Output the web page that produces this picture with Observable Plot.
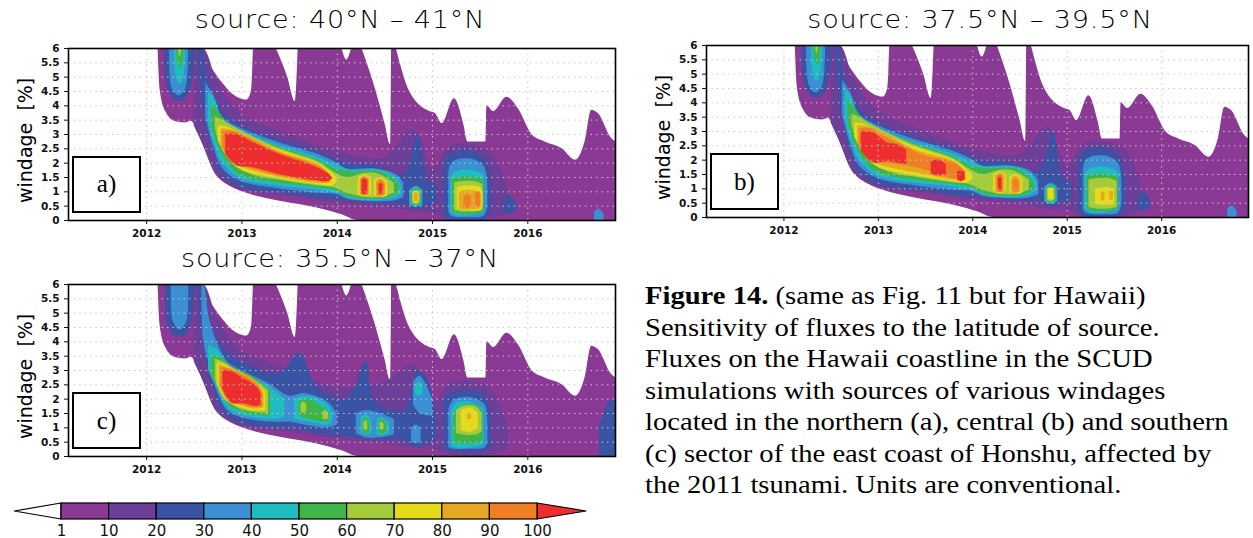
<!DOCTYPE html>
<html><head><meta charset="utf-8">
<script src="https://cdn.jsdelivr.net/npm/d3@7"></script>
<script src="https://cdn.jsdelivr.net/npm/@observablehq/plot@0.6"></script>
<style>
body{margin:0;background:#fff;width:1253px;height:538px;position:relative;overflow:hidden;font-family:"DejaVu Sans",sans-serif}
.abs{position:absolute}
.title{font-size:25px;white-space:nowrap;transform:translateX(-50%) scaleX(1.08);letter-spacing:0.8px;font-weight:300}
.ylab{font-size:19px;transform:rotate(-90deg);transform-origin:left top;white-space:nowrap}
.tag{border:2px solid #000;background:#fff;font-family:"Liberation Serif",serif;font-size:25px;display:flex;align-items:center;justify-content:center;box-sizing:border-box}
.cap{font-family:"Liberation Serif",serif;font-size:26px;line-height:31.5px;white-space:nowrap;transform:scaleX(1.1);transform-origin:left top}
</style></head><body>
<script>
// ---------- data ----------
const years = [2012, 2013, 2014, 2015, 2016];
const windTicks = [0, 0.5, 1, 1.5, 2, 2.5, 3, 3.5, 4, 4.5, 5, 5.5, 6];
const levels = [1, 10, 20, 30, 40, 50, 60, 70, 80, 90, 100];
const levelColors = ["#8a3a94", "#6c3f99", "#3a53a4", "#3b8fd3", "#1fbdc0", "#3eb449", "#a4cb3a", "#e5db1b", "#e6a823", "#f07e22", "#ee2e2e"];
const titles = ["source: 40°N – 41°N", "source: 37.5°N – 39.5°N", "source: 35.5°N – 37°N"];
const tags = ["a)", "b)", "c)"];

// lower boundary of the non-zero region: [year, windage]
const lowerEdge = [[2012.12,6],[2012.14,4.6],[2012.2,3.8],[2012.3,3.45],[2012.4,3.4],[2012.47,3.45],[2012.55,3.0],[2012.62,2.4],[2012.7,1.8],[2012.78,1.45],[2012.9,1.15],[2013.05,0.95],[2013.4,0.67],[2013.8,0.43],[2014.05,0.2],[2014.22,0],[2016.92,0]];
// white gaps reaching down from the top: [year, windage bottom]
const gaps = [
 [[2012.56,6],[2012.75,5.0],[2012.95,4.3],[2013.05,4.2],[2013.1,4.5],[2013.12,6]],
 [[2013.36,6],[2013.48,5.0],[2013.56,4.15],[2013.59,6]],
 [[2014.05,6],[2014.1,5.6],[2014.15,6]],
 [[2014.26,6],[2014.4,4.6],[2014.5,3.4],[2014.56,2.65],[2014.57,6]],
 [[2014.62,6],[2014.76,4.5],[2014.97,3.8],[2015.03,3.73],[2015.1,3.38],[2015.23,4.25],[2015.33,3.32],[2015.37,2.74],[2015.56,2.74],[2015.57,4.0],[2015.64,3.8],[2015.78,4.3],[2015.9,3.9],[2016.05,2.97],[2016.18,2.74],[2016.36,2.5],[2016.5,2.1],[2016.6,2.74],[2016.67,3.85],[2016.74,3.73],[2016.88,2.86],[2016.92,2.75]]
];

// blobs: [level, [[year, windage low, windage high], ...]]
const blobsA = [
 [10, [[2012.5,3.3,6],[2012.6,2.6,6],[2012.75,1.5,4.8],[2013.0,1.05,3.7],[2013.5,0.85,3.0],[2014.0,0.6,2.4],[2014.5,0.45,2.2],[2014.8,0.3,3.2],[2015.0,0.25,1.8],[2015.2,0.02,2.6],[2015.6,0.02,2.4],[2015.8,0.3,1.0]]],
 [20, [[2012.19,6,6],[2012.22,4.6,6],[2012.3,4.2,6],[2012.4,4.2,6],[2012.48,4.8,6],[2012.5,6,6]]],
 [20, [[2012.54,6,6],[2012.58,4.3,6],[2012.62,3.4,5.2],[2012.7,2.4,4.4],[2012.8,1.6,3.8],[2013.0,1.15,3.3],[2013.4,0.95,2.8],[2013.8,0.78,2.4],[2014.1,0.7,2.0],[2014.4,0.6,1.9],[2014.7,0.55,1.6],[2014.85,0.4,3.0],[2014.95,0.5,1.4],[2015.05,0.6,1.2]]],
 [20, [[2015.12,0.3,1.2],[2015.15,0.05,2.2],[2015.35,0.02,2.45],[2015.55,0.05,2.1],[2015.62,0.4,1.2]]],
 [20, [[2015.75,0.3,0.6],[2015.8,0.2,0.9],[2015.88,0.35,0.6]]],
 [30, [[2012.24,6,6],[2012.27,4.6,6],[2012.34,4.35,6],[2012.41,4.6,6],[2012.44,6,6]]],
 [30, [[2012.62,3.6,4.8],[2012.7,2.6,4.4],[2012.8,1.8,3.6],[2013.0,1.35,3.2],[2013.4,1.1,2.7],[2013.8,0.95,2.3],[2014.0,0.9,2.0],[2014.1,0.75,1.8],[2014.4,0.65,1.8],[2014.62,0.7,1.6],[2014.7,0.8,1.3]]],
 [30, [[2014.76,0.55,1.05],[2014.83,0.45,1.2],[2014.9,0.55,1.05]]],
 [30, [[2015.17,0.3,1.5],[2015.2,0.15,2.0],[2015.38,0.1,2.15],[2015.54,0.15,1.9],[2015.58,0.5,1.2]]],
 [30, [[2016.7,0,0.3],[2016.75,0,0.4],[2016.8,0,0.2]]],
 [40, [[2012.29,6,6],[2012.31,5.0,6],[2012.35,4.75,6],[2012.39,5.0,6],[2012.41,6,6]]],
 [40, [[2012.65,3.4,4.5],[2012.72,2.6,4.2],[2012.8,2.0,3.5],[2013.0,1.45,3.1],[2013.4,1.2,2.6],[2013.8,1.05,2.2],[2014.0,0.95,1.9],[2014.15,0.75,1.75],[2014.45,0.7,1.75],[2014.62,0.8,1.5],[2014.68,0.95,1.2]]],
 [40, [[2014.77,0.55,1.05],[2014.83,0.48,1.15],[2014.89,0.55,1.05]]],
 [40, [[2015.19,0.3,1.5],[2015.25,0.17,1.7],[2015.4,0.17,1.75],[2015.54,0.25,1.6]]],
 [50, [[2012.31,6,6],[2012.33,5.5,6],[2012.36,5.3,6],[2012.38,5.5,6],[2012.39,6,6]]],
 [50, [[2012.68,3.3,4.1],[2012.75,2.6,3.8],[2012.85,2.0,3.4],[2013.0,1.55,3.05],[2013.4,1.3,2.55],[2013.8,1.15,2.1],[2013.98,1.05,1.8],[2014.15,0.8,1.7],[2014.45,0.75,1.7],[2014.6,0.85,1.4],[2014.65,1.0,1.2]]],
 [50, [[2014.78,0.6,1.0],[2014.83,0.52,1.1],[2014.88,0.6,1.0]]],
 [50, [[2015.21,0.3,1.45],[2015.28,0.23,1.5],[2015.45,0.23,1.5],[2015.54,0.3,1.4]]],
 [60, [[2012.33,6,6],[2012.35,5.7,6],[2012.37,6,6]]],
 [60, [[2012.72,3.2,3.6],[2012.8,2.5,3.5],[2012.9,2.0,3.3],[2013.1,1.6,2.95],[2013.4,1.4,2.5],[2013.8,1.2,2.05],[2013.96,1.15,1.7],[2014.1,0.95,1.5],[2014.3,0.8,1.65],[2014.45,0.8,1.6],[2014.6,0.95,1.3]]],
 [60, [[2014.79,0.62,1.0],[2014.83,0.55,1.05],[2014.87,0.62,1.0]]],
 [60, [[2015.23,0.35,1.3],[2015.3,0.3,1.35],[2015.45,0.3,1.35],[2015.53,0.35,1.25]]],
 [70, [[2012.75,2.8,3.3],[2012.85,2.2,3.25],[2013.0,1.75,3.0],[2013.4,1.45,2.45],[2013.8,1.25,2.0],[2013.95,1.2,1.65],[2014.0,1.35,1.5]]],
 [70, [[2014.22,0.9,1.5],[2014.29,0.82,1.6],[2014.36,0.9,1.5]]],
 [70, [[2014.39,0.85,1.4],[2014.46,0.8,1.5],[2014.53,0.85,1.35]]],
 [70, [[2014.8,0.65,0.98],[2014.83,0.6,1.02],[2014.86,0.65,0.98]]],
 [70, [[2015.26,0.38,1.15],[2015.35,0.35,1.2],[2015.5,0.35,1.15],[2015.53,0.45,1.0]]],
 [80, [[2012.78,2.6,3.2],[2012.9,2.0,3.15],[2013.05,1.8,2.95],[2013.4,1.5,2.4],[2013.8,1.3,1.95],[2013.93,1.3,1.6]]],
 [80, [[2014.24,0.9,1.45],[2014.29,0.85,1.55],[2014.34,0.9,1.45]]],
 [80, [[2014.41,0.85,1.35],[2014.46,0.82,1.45],[2014.51,0.9,1.3]]],
 [80, [[2014.81,0.68,0.95],[2014.83,0.65,0.98],[2014.85,0.68,0.95]]],
 [80, [[2015.28,0.4,1.0],[2015.38,0.37,1.05],[2015.5,0.4,1.0]]],
 [90, [[2012.8,2.5,3.1],[2012.92,1.95,3.1],[2013.05,1.85,2.9],[2013.4,1.55,2.35],[2013.8,1.35,1.9],[2013.92,1.35,1.6]]],
 [90, [[2014.25,0.92,1.42],[2014.29,0.87,1.5],[2014.33,0.92,1.42]]],
 [90, [[2014.42,0.88,1.3],[2014.46,0.85,1.4],[2014.5,0.92,1.25]]],
 [90, [[2015.33,0.45,0.85],[2015.37,0.42,0.9],[2015.41,0.45,0.85]]],
 [90, [[2015.45,0.5,0.95],[2015.48,0.45,1.0],[2015.51,0.5,0.9]]],
 [100, [[2012.83,2.3,3.0],[2012.95,1.9,3.0],[2013.1,1.85,2.75],[2013.4,1.6,2.3],[2013.75,1.4,1.9],[2013.9,1.35,1.65],[2013.95,1.45,1.5]]],
 [100, [[2014.26,0.95,1.4],[2014.29,0.9,1.46],[2014.32,0.95,1.4]]],
 [100, [[2014.44,0.95,1.25],[2014.46,0.92,1.3],[2014.48,0.95,1.25]]]
];
const blobsB = [
 ...blobsA.filter(b => b[0] <= 60),
 [70, [[2012.75,2.8,3.3],[2012.85,2.2,3.25],[2013.0,1.75,3.0],[2013.4,1.45,2.45],[2013.8,1.25,2.0],[2013.95,1.2,1.65],[2014.0,1.35,1.5]]],
 [70, [[2014.22,0.9,1.5],[2014.29,0.82,1.6],[2014.36,0.9,1.5]]],
 [70, [[2014.39,0.85,1.4],[2014.46,0.8,1.5],[2014.53,0.85,1.35]]],
 [70, [[2014.8,0.65,0.98],[2014.83,0.6,1.02],[2014.86,0.65,0.98]]],
 [70, [[2015.3,0.45,1.0],[2015.4,0.42,1.05],[2015.5,0.45,1.0]]],
 [80, [[2012.78,2.6,3.2],[2012.9,2.0,3.15],[2013.05,1.8,2.95],[2013.4,1.55,2.35],[2013.8,1.3,1.95],[2013.93,1.3,1.6]]],
 [80, [[2014.24,0.9,1.45],[2014.29,0.85,1.55],[2014.34,0.9,1.45]]],
 [80, [[2014.41,0.85,1.35],[2014.46,0.82,1.45],[2014.51,0.9,1.3]]],
 [80, [[2015.36,0.6,0.85],[2015.38,0.58,0.9],[2015.4,0.6,0.85]]],
 [80, [[2015.45,0.62,0.9],[2015.47,0.6,0.92],[2015.49,0.62,0.88]]],
 [90, [[2012.8,2.5,3.1],[2012.92,1.95,3.1],[2013.05,1.9,2.85],[2013.3,1.8,2.45],[2013.45,1.7,2.2],[2013.8,1.35,1.9],[2013.92,1.35,1.6]]],
 [90, [[2014.26,0.92,1.42],[2014.29,0.87,1.5],[2014.32,0.92,1.42]]],
 [90, [[2014.43,0.92,1.28],[2014.46,0.88,1.35],[2014.49,0.92,1.25]]],
 [100, [[2012.82,2.3,3.0],[2012.95,1.9,2.95],[2013.1,1.95,2.6],[2013.2,1.9,2.55],[2013.3,1.85,2.35]]],
 [100, [[2013.56,1.5,1.95],[2013.64,1.45,2.0],[2013.72,1.5,1.85]]],
 [100, [[2013.84,1.3,1.6],[2013.88,1.25,1.62],[2013.92,1.32,1.55]]],
 [100, [[2014.27,0.98,1.35],[2014.29,0.94,1.4],[2014.31,0.98,1.35]]]
];
const blobsC = [
 [10, [[2012.5,3.3,6],[2012.6,2.6,6],[2012.75,1.5,4.8],[2013.0,1.05,3.7],[2013.5,0.85,3.0],[2014.0,0.6,2.4],[2014.5,0.45,2.6],[2014.8,0.3,3.2],[2015.0,0.25,1.8],[2015.2,0.05,2.6],[2015.6,0.05,2.4],[2015.8,0.3,1.0]]],
 [20, [[2012.2,6,6],[2012.22,4.6,6],[2012.3,4.2,6],[2012.4,4.2,6],[2012.48,4.8,6],[2012.5,6,6]]],
 [20, [[2012.54,6,6],[2012.58,4.3,6],[2012.62,3.4,5.2],[2012.7,2.4,4.4],[2012.8,1.6,3.8],[2013.0,1.15,3.3],[2013.4,1.0,2.9],[2013.6,0.95,3.6],[2013.8,0.8,2.4],[2014.1,0.7,2.0],[2014.3,0.6,3.3],[2014.4,0.6,1.9],[2014.7,0.55,1.6],[2014.85,0.3,3.0],[2014.95,0.5,2.7],[2015.05,0.6,1.2]]],
 [20, [[2015.12,0.3,1.2],[2015.15,0.2,2.1],[2015.35,0.15,2.3],[2015.55,0.2,2.1],[2015.62,0.4,1.2]]],
 [20, [[2016.75,0,1.0],[2016.85,0,1.9],[2016.92,0,2.0]]],
 [30, [[2012.26,6,6],[2012.28,4.7,6],[2012.35,4.4,6],[2012.42,4.7,6],[2012.44,6,6]]],
 [30, [[2012.58,6,6],[2012.6,4.0,6],[2012.66,3.2,4.8],[2012.75,2.2,3.9],[2012.85,1.6,3.3],[2013.0,1.35,3.0],[2013.3,1.2,2.5],[2013.5,1.2,2.1],[2013.65,1.1,2.2],[2013.9,1.0,1.9],[2014.0,1.1,1.5]]],
 [30, [[2014.2,0.8,1.5],[2014.3,0.65,1.6],[2014.45,0.65,1.5],[2014.6,0.75,1.3]]],
 [30, [[2014.78,0.5,1.0],[2014.83,0.45,1.1],[2014.88,0.5,1.0]]],
 [30, [[2014.8,1.8,2.6],[2014.87,1.5,2.8],[2015.0,1.4,2.0]]],
 [30, [[2015.17,0.3,1.6],[2015.22,0.25,1.95],[2015.4,0.25,2.05],[2015.55,0.3,1.8],[2015.58,0.5,1.2]]],
 [40, [[2012.65,3.0,3.9],[2012.75,2.3,3.7],[2012.85,1.7,3.2],[2013.0,1.45,2.95],[2013.3,1.3,2.4],[2013.45,1.35,2.0]]],
 [40, [[2013.55,1.3,2.0],[2013.7,1.2,2.1],[2013.9,1.1,1.8],[2013.95,1.2,1.5]]],
 [40, [[2014.25,0.8,1.35],[2014.3,0.75,1.45],[2014.36,0.8,1.3]]],
 [40, [[2014.42,0.75,1.3],[2014.47,0.72,1.35],[2014.55,0.8,1.15]]],
 [40, [[2014.82,2.2,2.5],[2014.86,2.1,2.6],[2014.9,2.2,2.5]]],
 [40, [[2015.2,0.35,1.55],[2015.25,0.3,1.85],[2015.4,0.3,1.9],[2015.54,0.4,1.65]]],
 [50, [[2012.68,2.9,3.5],[2012.78,2.2,3.45],[2012.9,1.7,3.1],[2013.05,1.5,2.9],[2013.3,1.4,2.3]]],
 [50, [[2013.6,1.4,1.9],[2013.7,1.3,2.0],[2013.85,1.2,1.7],[2013.92,1.25,1.5]]],
 [50, [[2014.27,0.85,1.3],[2014.3,0.8,1.35],[2014.34,0.85,1.25]]],
 [50, [[2014.44,0.8,1.25],[2014.47,0.78,1.3],[2014.52,0.85,1.15]]],
 [50, [[2015.22,0.5,1.5],[2015.3,0.45,1.75],[2015.45,0.45,1.8],[2015.53,0.55,1.55]]],
 [60, [[2012.72,2.7,3.4],[2012.8,2.1,3.3],[2012.95,1.7,3.0],[2013.1,1.55,2.75],[2013.28,1.5,2.3]]],
 [60, [[2013.62,1.55,1.85],[2013.65,1.5,1.9],[2013.68,1.55,1.8]]],
 [60, [[2013.85,1.3,1.55],[2013.88,1.28,1.6],[2013.91,1.32,1.5]]],
 [60, [[2014.28,0.95,1.2],[2014.3,0.92,1.25],[2014.32,0.95,1.2]]],
 [60, [[2014.45,0.95,1.15],[2014.47,0.92,1.2],[2014.49,0.95,1.12]]],
 [60, [[2015.25,0.8,1.6],[2015.32,0.75,1.75],[2015.45,0.75,1.75],[2015.52,0.85,1.5]]],
 [70, [[2012.74,2.6,3.25],[2012.82,2.0,3.2],[2012.95,1.75,2.95],[2013.1,1.6,2.7],[2013.25,1.6,2.25]]],
 [70, [[2015.3,0.9,1.6],[2015.4,0.85,1.7],[2015.48,0.95,1.5]]],
 [80, [[2012.76,2.5,3.2],[2012.85,1.95,3.1],[2013.0,1.75,2.9],[2013.15,1.65,2.6],[2013.23,1.7,2.2]]],
 [80, [[2015.37,1.3,1.5],[2015.39,1.28,1.52],[2015.41,1.3,1.48]]],
 [90, [[2012.78,2.45,3.1],[2012.87,1.9,3.05],[2013.0,1.8,2.85],[2013.15,1.7,2.55],[2013.22,1.75,2.2]]],
 [100, [[2012.8,2.35,3.0],[2012.9,1.85,2.95],[2013.0,1.85,2.75],[2013.15,1.75,2.45],[2013.2,1.8,2.2]]]
];
const colorbarLabels = ["1","10","20","30","40","50","60","70","80","90","100"];

// ---------- layout ----------
const panels = [
  {blobs: blobsA, left: 0, top: 39.5, w: 620, title: [340, 5]},
  {blobs: blobsB, left: 638, top: 37, w: 615, title: [980, 5]},
  {blobs: blobsC, left: 0, top: 276, w: 620, title: [340, 244]}
];
const levelColor = d3.scaleOrdinal(levels, levelColors);

function el(cls, style, html) {
  const d = document.createElement("div");
  d.className = "abs " + cls;
  Object.assign(d.style, style);
  d.innerHTML = html;
  document.body.appendChild(d);
  return d;
}

panels.forEach((p, k) => {
  const rows = [];
  p.blobs.forEach(([lev, pts], i) => pts.forEach(([x, y1, y2]) => rows.push({id: i, lev, x, y1, y2})));
  const env = lowerEdge.map(([x, y]) => ({x, y1: y, y2: 6}));
  const gapRows = [];
  gaps.forEach((g, i) => g.forEach(([x, y]) => gapRows.push({id: i, x, y1: y, y2: 6})));
  const chart = Plot.plot({
    width: p.w, height: 202,
    marginLeft: 68, marginRight: 5, marginTop: 8, marginBottom: 22,
    x: {domain: [2011.18, 2016.92], ticks: years, tickFormat: d => String(d), label: null, tickSize: 4},
    y: {domain: [0, 6], ticks: windTicks, tickFormat: d => String(d), label: null, tickSize: 4},
    style: {fontFamily: "DejaVu Sans", fontSize: "10.5px", fontWeight: "bold", color: "#111", overflow: "visible"},
    marks: [
      Plot.areaY(env, {x: "x", y1: "y1", y2: "y2", fill: levelColors[0], curve: "monotone-x", clip: true}),
      Plot.areaY(gapRows, {x: "x", y1: "y1", y2: "y2", z: "id", fill: "white", curve: "monotone-x", clip: true}),
      Plot.areaY(rows, {x: "x", y1: "y1", y2: "y2", z: "id", fill: d => levelColor(d.lev), curve: "catmull-rom", clip: true}),
      Plot.gridX(years, {stroke: "#c8c8c8", strokeOpacity: 1, strokeDasharray: "1.5,4"}),
      Plot.gridY(windTicks.slice(1, -1), {stroke: "#c8c8c8", strokeOpacity: 1, strokeDasharray: "1.5,4"}),
      Plot.frame({stroke: "#000", strokeWidth: 1.6})
    ]
  });
  chart.style.position = "absolute";
  chart.style.left = p.left + "px";
  chart.style.top = p.top + "px";
  document.body.appendChild(chart);
  el("title", {left: p.title[0] + "px", top: p.title[1] + "px"}, titles[k]);
  el("ylab", {left: (p.left + 14) + "px", top: (p.top + 163) + "px"}, "windage&nbsp;&nbsp;[%]");
  el("tag", {left: (p.left + 72) + "px", top: (p.top + 116) + "px", width: "69px", height: "57px"}, tags[k]);
});

// ---------- colorbar ----------
const boxes = levels.slice(0, 10).map((v, i) => ({i, color: levelColors[i]}));
const triL = [{x: -0.98, y1: 0.5, y2: 0.5}, {x: 0, y1: 0, y2: 1}];
const triR = [{x: 10, y1: 0, y2: 1}, {x: 11.03, y1: 0.5, y2: 0.5}];
const bar = Plot.plot({
  width: 600, height: 48, margin: 0,
  x: {domain: [0, 10], range: [61, 537], axis: null},
  y: {domain: [0, 1], range: [28, 12], axis: null},
  marks: [
    Plot.areaY(triL, {x: "x", y1: "y1", y2: "y2", fill: "white", stroke: "#000", strokeWidth: 1.2}),
    Plot.areaY(triR, {x: "x", y1: "y1", y2: "y2", fill: levelColors[10], stroke: "#000", strokeWidth: 1.2}),
    Plot.rect(boxes, {x1: d => d.i, x2: d => d.i + 1, y1: () => 0, y2: () => 1, fill: d => d.color, stroke: "#000", strokeWidth: 1.2}),
    Plot.text(colorbarLabels, {x: (d, i) => i, y: () => 0, dy: 12, text: d => d, fontSize: 15, fontFamily: "DejaVu Sans", fill: "#111"})
  ]
});
bar.style.position = "absolute"; bar.style.left = "0px"; bar.style.top = "491px";
document.body.appendChild(bar);

// ---------- caption ----------
el("cap", {left: "645px", top: "280px"},
  "<b>Figure 14.</b> (same as Fig. 11 but for Hawaii)<br>Sensitivity of fluxes to the latitude of source.<br>Fluxes on the Hawaii coastline in the SCUD<br>simulations with sources of various windages<br>located in the northern (a), central (b) and southern<br>(c) sector of the east coast of Honshu, affected by<br>the 2011 tsunami. Units are conventional.");
</script>
</body></html>
